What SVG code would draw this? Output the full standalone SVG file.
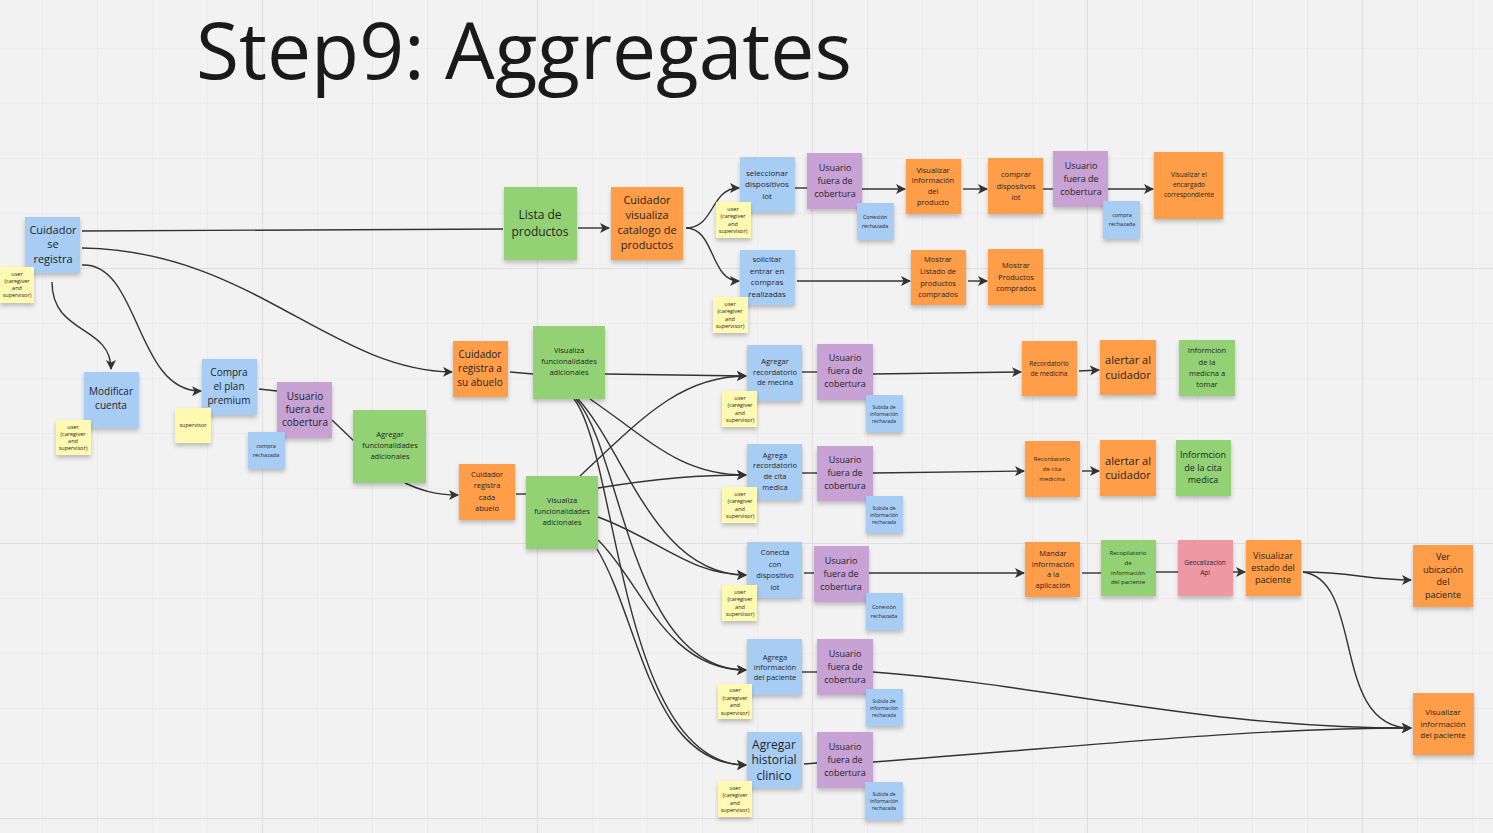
<svg xmlns="http://www.w3.org/2000/svg" width="1493" height="833" viewBox="0 0 1493 833">
<style>
.t{font-family:"Open Sans","Noto Sans","Liberation Sans",sans-serif;fill:#1f1f1f;text-anchor:middle}
.b{fill:#a8cdf4}.o{fill:#ff9d48}.g{fill:#92d275}.p{fill:#c8a2d5}.y{fill:#fff9b1}.k{fill:#ef98a5}
.n rect{filter:url(#sh)}
.c path{fill:none;stroke:#333;stroke-width:1.4}
.c .a{marker-end:url(#ar)}
.s5{font-size:5.5px}.s6{font-size:6.5px}.s7{font-size:7.5px}.s8{font-size:8px}.s9{font-size:9px}.s10{font-size:10px}.s11{font-size:11px}.s12{font-size:12px}
</style>
<defs>
<pattern id="gm" x="42" y="48" width="55" height="55" patternUnits="userSpaceOnUse"><path d="M0,0 H55 M0,0 V55" stroke="#e5e5e5" stroke-width="1.2" fill="none"/></pattern>
<pattern id="gM" x="262" y="268" width="275" height="275" patternUnits="userSpaceOnUse"><path d="M0,0 H275 M0,0 V275" stroke="#dadada" stroke-width="1.5" fill="none"/></pattern>
<filter id="sh" x="-10%" y="-10%" width="120%" height="130%"><feDropShadow dx="0" dy="3" stdDeviation="2" flood-color="#000" flood-opacity="0.22"/></filter>
<marker id="ar" viewBox="0 0 10 10" refX="9" refY="5" markerWidth="10" markerHeight="10" markerUnits="userSpaceOnUse" orient="auto"><path d="M0,0 L10,5 L0,10 L2.5,5 z" fill="#333"/></marker>
</defs>
<rect width="1493" height="833" fill="#f2f2f2"/>
<rect width="1493" height="833" fill="url(#gm)"/>
<rect width="1493" height="833" fill="url(#gM)"/>
<text class="t" x="196" y="79" style="font-size:78.5px;text-anchor:start;fill:#1a1a1a">Step9: Aggregates</text>

<g class="c" id="connectors">
<path d="M82,231 L503,229"/>
<path class="a" d="M578,228 L609,228"/>
<path class="a" d="M82,248 C250,250 330,370 452,372"/>
<path class="a" d="M82,265 C140,262 135,392 201,391"/>
<path class="a" d="M52,282 C52,335 111,325 111,369"/>
<path d="M259,389 L277,391"/>
<path d="M332,420 L355,442"/>
<path class="a" d="M405,483 C420,490 435,495 458,495"/>
<path d="M510,372 L533,374"/>
<path d="M516,494 L526,494"/>
<path class="a" d="M686,228 C715,228 710,188 739,188"/>
<path class="a" d="M686,228 C715,228 710,281 739,281"/>
<path d="M795,188 L807,188"/>
<path class="a" d="M862,189 L905,189"/>
<path class="a" d="M963,189 L987,189"/>
<path d="M1043,189 L1053,189"/>
<path class="a" d="M1108,189 L1153,189"/>
<path class="a" d="M797,281 L910,281"/>
<path class="a" d="M968,281 L987,281"/>
<path class="a" d="M605,374 L746,376"/>
<path class="a" d="M580,476 C640,420 680,376 746,376"/>
<path class="a" d="M590,399 C650,440 680,475 746,475"/>
<path class="a" d="M578,399 C625,450 655,575 746,575"/>
<path class="a" d="M576,399 C622,450 630,670 746,670"/>
<path class="a" d="M574,399 C618,455 620,765 746,765"/>
<path class="a" d="M598,488 C660,478 700,475 746,475"/>
<path class="a" d="M598,517 C660,540 690,575 746,575"/>
<path class="a" d="M598,540 C640,580 665,670 746,670"/>
<path class="a" d="M597,549 C640,620 650,765 746,765"/>
<path d="M802,372 L817,372"/>
<path class="a" d="M873,374 L1021,372"/>
<path class="a" d="M1079,371 L1099,370"/>
<path d="M802,473 L817,473"/>
<path class="a" d="M873,473 L1024,471"/>
<path class="a" d="M1082,471 L1099,471"/>
<path d="M804,573 L814,573"/>
<path class="a" d="M869,573 L1024,573"/>
<path d="M1082,573 L1101,573"/>
<path d="M1156,572 L1178,572"/>
<path class="a" d="M1233,572 L1245,572"/>
<path class="a" d="M1303,572 C1350,572 1370,580 1411,580"/>
<path class="a" d="M1303,572 C1365,580 1330,728 1411,728"/>
<path d="M802,672 L817,672"/>
<path class="a" d="M873,672 C1050,685 1200,728 1411,728"/>
<path d="M804,764 L817,763"/>
<path class="a" d="M873,762 C1100,745 1250,728 1411,728"/>
</g>

<g class="n" id="n1"><rect class="b" x="25" y="217" width="55" height="56"/><text class="t s11"><tspan x="53" y="234">Cuidador</tspan><tspan x="53" y="248">se</tspan><tspan x="53" y="263">registra</tspan></text></g>
<g class="n" id="n2"><rect class="y" x="0" y="267" width="34" height="36"/><text class="t s5"><tspan x="17" y="276">user</tspan><tspan x="17" y="283">(caregiver</tspan><tspan x="17" y="290">and</tspan><tspan x="17" y="297">supervisor)</tspan></text></g>
<g class="n" id="n3"><rect class="b" x="84" y="372" width="55" height="56"/><text class="t s10"><tspan x="111" y="395">Modificar</tspan><tspan x="111" y="409">cuenta</tspan></text></g>
<g class="n" id="n4"><rect class="y" x="56" y="420" width="35" height="35"/><text class="t s5"><tspan x="73" y="429">user</tspan><tspan x="73" y="436">(caregiver</tspan><tspan x="73" y="443">and</tspan><tspan x="73" y="450">supervisor)</tspan></text></g>
<g class="n" id="n5"><rect class="b" x="202" y="359" width="55" height="56"/><text class="t s10"><tspan x="229" y="376">Compra</tspan><tspan x="229" y="390">el plan</tspan><tspan x="229" y="404">premium</tspan></text></g>
<g class="n" id="n6"><rect class="y" x="175" y="408" width="36" height="35"/><text class="t s5"><tspan x="193" y="427">supervisor</tspan></text></g>
<g class="n" id="n7"><rect class="p" x="277" y="382" width="55" height="56"/><text class="t s10"><tspan x="305" y="400">Usuario</tspan><tspan x="305" y="413">fuera de</tspan><tspan x="305" y="426">cobertura</tspan></text></g>
<g class="n" id="n8"><rect class="b" x="248" y="432" width="37" height="37"/><text class="t s5"><tspan x="266" y="448">compra</tspan><tspan x="266" y="457">rechazada</tspan></text></g>
<g class="n" id="n9"><rect class="g" x="353" y="410" width="73" height="73"/><text class="t s7"><tspan x="390" y="437">Agregar</tspan><tspan x="390" y="448">funcionalidades</tspan><tspan x="390" y="459">adicionales</tspan></text></g>
<g class="n" id="n10"><rect class="o" x="453" y="341" width="55" height="56"/><text class="t s10"><tspan x="480" y="358">Cuidador</tspan><tspan x="480" y="372">registra a</tspan><tspan x="480" y="386">su abuelo</tspan></text></g>
<g class="n" id="n11"><rect class="g" x="533" y="326" width="72" height="73"/><text class="t s7"><tspan x="569" y="353">Visualiza</tspan><tspan x="569" y="364">funcionalidades</tspan><tspan x="569" y="375">adicionales</tspan></text></g>
<g class="n" id="n12"><rect class="o" x="459" y="464" width="56" height="56"/><text class="t s7"><tspan x="487" y="477">Cuidador</tspan><tspan x="487" y="488">registra</tspan><tspan x="487" y="500">cada</tspan><tspan x="487" y="511">abuelo</tspan></text></g>
<g class="n" id="n13"><rect class="g" x="526" y="476" width="72" height="73"/><text class="t s7"><tspan x="562" y="503">Visualiza</tspan><tspan x="562" y="514">funcionalidades</tspan><tspan x="562" y="525">adicionales</tspan></text></g>
<g class="n" id="n14"><rect class="g" x="504" y="187" width="73" height="73"/><text class="t s12"><tspan x="540" y="219">Lista de</tspan><tspan x="540" y="236">productos</tspan></text></g>
<g class="n" id="n15"><rect class="o" x="611" y="187" width="72" height="73"/><text class="t s11"><tspan x="647" y="204">Cuidador</tspan><tspan x="647" y="219">visualiza</tspan><tspan x="647" y="234">catalogo de</tspan><tspan x="647" y="249">productos</tspan></text></g>
<g class="n" id="n16"><rect class="b" x="740" y="157" width="55" height="55"/><text class="t s8"><tspan x="767" y="176">seleccionar</tspan><tspan x="767" y="187">dispositivos</tspan><tspan x="767" y="199">iot</tspan></text></g>
<g class="n" id="n17"><rect class="y" x="716" y="202" width="35" height="36"/><text class="t s5"><tspan x="733" y="211">user</tspan><tspan x="733" y="218">(caregiver</tspan><tspan x="733" y="226">and</tspan><tspan x="733" y="233">supervisor)</tspan></text></g>
<g class="n" id="n18"><rect class="b" x="740" y="250" width="55" height="55"/><text class="t s8"><tspan x="767" y="262">solicitar</tspan><tspan x="767" y="274">entrar en</tspan><tspan x="767" y="285">compras</tspan><tspan x="767" y="297">realizadas</tspan></text></g>
<g class="n" id="n19"><rect class="y" x="713" y="297" width="35" height="36"/><text class="t s5"><tspan x="730" y="306">user</tspan><tspan x="730" y="313">(caregiver</tspan><tspan x="730" y="321">and</tspan><tspan x="730" y="328">supervisor)</tspan></text></g>
<g class="n" id="n20"><rect class="p" x="807" y="153" width="55" height="56"/><text class="t s9"><tspan x="835" y="171">Usuario</tspan><tspan x="835" y="184">fuera de</tspan><tspan x="835" y="197">cobertura</tspan></text></g>
<g class="n" id="n21"><rect class="b" x="857" y="203" width="37" height="37"/><text class="t s5"><tspan x="875" y="219">Conexión</tspan><tspan x="875" y="228">rechazada</tspan></text></g>
<g class="n" id="n22"><rect class="o" x="906" y="159" width="55" height="55"/><text class="t s7"><tspan x="933" y="173">Visualizar</tspan><tspan x="933" y="183">información</tspan><tspan x="933" y="194">del</tspan><tspan x="933" y="205">producto</tspan></text></g>
<g class="n" id="n23"><rect class="o" x="988" y="158" width="55" height="56"/><text class="t s7"><tspan x="1016" y="177">comprar</tspan><tspan x="1016" y="189">dispositvos</tspan><tspan x="1016" y="200">iot</tspan></text></g>
<g class="n" id="n24"><rect class="p" x="1053" y="151" width="55" height="56"/><text class="t s9"><tspan x="1081" y="169">Usuario</tspan><tspan x="1081" y="182">fuera de</tspan><tspan x="1081" y="195">cobertura</tspan></text></g>
<g class="n" id="n25"><rect class="b" x="1103" y="201" width="37" height="38"/><text class="t s5"><tspan x="1122" y="217">compra</tspan><tspan x="1122" y="226">rechazada</tspan></text></g>
<g class="n" id="n26"><rect class="o" x="1154" y="152" width="69" height="67"/><text class="t s6"><tspan x="1189" y="177">Visualizar el</tspan><tspan x="1189" y="187">encargado</tspan><tspan x="1189" y="197">correspondiente</tspan></text></g>
<g class="n" id="n27"><rect class="o" x="911" y="250" width="55" height="55"/><text class="t s7"><tspan x="938" y="262">Mostrar</tspan><tspan x="938" y="274">Listado de</tspan><tspan x="938" y="286">productos</tspan><tspan x="938" y="297">comprados</tspan></text></g>
<g class="n" id="n28"><rect class="o" x="988" y="249" width="55" height="56"/><text class="t s7"><tspan x="1016" y="268">Mostrar</tspan><tspan x="1016" y="280">Productos</tspan><tspan x="1016" y="291">comprados</tspan></text></g>

<g class="n" id="n29"><rect class="b" x="747" y="345" width="55" height="56"/><text class="t s7"><tspan x="775" y="364">Agregar</tspan><tspan x="775" y="375">recordatorio</tspan><tspan x="775" y="385">de mecina</tspan></text></g>
<g class="n" id="n30"><rect class="y" x="722" y="391" width="35" height="36"/><text class="t s5"><tspan x="740" y="400">user</tspan><tspan x="740" y="407">(caregiver</tspan><tspan x="740" y="415">and</tspan><tspan x="740" y="422">supervisor)</tspan></text></g>
<g class="n" id="n31"><rect class="p" x="817" y="344" width="56" height="56"/><text class="t s9"><tspan x="845" y="361">Usuario</tspan><tspan x="845" y="374">fuera de</tspan><tspan x="845" y="387">cobertura</tspan></text></g>
<g class="n" id="n32"><rect class="b" x="866" y="395" width="37" height="37"/><text class="t" style="font-size:5px"><tspan x="884" y="409">Subida de</tspan><tspan x="884" y="416">información</tspan><tspan x="884" y="423">rechazada</tspan></text></g>
<g class="n" id="n33"><rect class="o" x="1022" y="341" width="55" height="55"/><text class="t s6"><tspan x="1049" y="366">Recordatorio</tspan><tspan x="1049" y="376">de medicina</tspan></text></g>
<g class="n" id="n34"><rect class="o" x="1100" y="340" width="56" height="55"/><text class="t s11"><tspan x="1128" y="364">alertar al</tspan><tspan x="1128" y="379">cuidador</tspan></text></g>
<g class="n" id="n35"><rect class="g" x="1179" y="340" width="56" height="56"/><text class="t s7"><tspan x="1207" y="353">Informcion</tspan><tspan x="1207" y="365">de la</tspan><tspan x="1207" y="376">medicna a</tspan><tspan x="1207" y="387">tomar</tspan></text></g>

<g class="n" id="n36"><rect class="b" x="747" y="444" width="55" height="56"/><text class="t s7"><tspan x="775" y="458">Agrega</tspan><tspan x="775" y="468">recordatorio</tspan><tspan x="775" y="479">de cita</tspan><tspan x="775" y="490">medica</tspan></text></g>
<g class="n" id="n37"><rect class="y" x="722" y="487" width="35" height="36"/><text class="t s5"><tspan x="740" y="496">user</tspan><tspan x="740" y="503">(caregiver</tspan><tspan x="740" y="511">and</tspan><tspan x="740" y="518">supervisor)</tspan></text></g>
<g class="n" id="n38"><rect class="p" x="817" y="446" width="56" height="55"/><text class="t s9"><tspan x="845" y="463">Usuario</tspan><tspan x="845" y="476">fuera de</tspan><tspan x="845" y="489">cobertura</tspan></text></g>
<g class="n" id="n39"><rect class="b" x="866" y="496" width="37" height="37"/><text class="t" style="font-size:5px"><tspan x="884" y="510">Subida de</tspan><tspan x="884" y="517">información</tspan><tspan x="884" y="524">rechazada</tspan></text></g>
<g class="n" id="n40"><rect class="o" x="1025" y="441" width="55" height="56"/><text class="t" style="font-size:6px"><tspan x="1052" y="461">Recordatorio</tspan><tspan x="1052" y="471">de cita</tspan><tspan x="1052" y="481">medicina</tspan></text></g>
<g class="n" id="n41"><rect class="o" x="1100" y="440" width="56" height="56"/><text class="t s11"><tspan x="1128" y="465">alertar al</tspan><tspan x="1128" y="479">cuidador</tspan></text></g>
<g class="n" id="n42"><rect class="g" x="1176" y="440" width="55" height="56"/><text class="t s9"><tspan x="1203" y="458">Informcion</tspan><tspan x="1203" y="471">de la cita</tspan><tspan x="1203" y="483">medica</tspan></text></g>

<g class="n" id="n43"><rect class="b" x="747" y="542" width="55" height="56"/><text class="t s7"><tspan x="775" y="555">Conecta</tspan><tspan x="775" y="567">con</tspan><tspan x="775" y="578">dispositivo</tspan><tspan x="775" y="590">iot</tspan></text></g>
<g class="n" id="n44"><rect class="y" x="722" y="585" width="35" height="36"/><text class="t s5"><tspan x="740" y="594">user</tspan><tspan x="740" y="601">(caregiver</tspan><tspan x="740" y="609">and</tspan><tspan x="740" y="616">supervisor)</tspan></text></g>
<g class="n" id="n45"><rect class="p" x="814" y="546" width="55" height="56"/><text class="t s9"><tspan x="841" y="564">Usuario</tspan><tspan x="841" y="577">fuera de</tspan><tspan x="841" y="590">cobertura</tspan></text></g>
<g class="n" id="n46"><rect class="b" x="866" y="593" width="37" height="37"/><text class="t s5"><tspan x="884" y="609">Conexión</tspan><tspan x="884" y="618">rechazada</tspan></text></g>
<g class="n" id="n47"><rect class="o" x="1025" y="542" width="55" height="55"/><text class="t s7"><tspan x="1053" y="556">Mandar</tspan><tspan x="1053" y="567">información</tspan><tspan x="1053" y="577">a la</tspan><tspan x="1053" y="588">aplicación</tspan></text></g>
<g class="n" id="n48"><rect class="g" x="1101" y="540" width="55" height="56"/><text class="t" style="font-size:6px"><tspan x="1128" y="555">Recopilatorio</tspan><tspan x="1128" y="565">de</tspan><tspan x="1128" y="575">información</tspan><tspan x="1128" y="584">del paciente</tspan></text></g>
<g class="n" id="n49"><rect class="k" x="1178" y="540" width="55" height="56"/><text class="t s6"><tspan x="1205" y="565">Geocalizacion</tspan><tspan x="1205" y="575">Api</tspan></text></g>
<g class="n" id="n50"><rect class="o" x="1246" y="540" width="55" height="56"/><text class="t s9"><tspan x="1273" y="559">Visualizar</tspan><tspan x="1273" y="571">estado del</tspan><tspan x="1273" y="583">paciente</tspan></text></g>
<g class="n" id="n51"><rect class="o" x="1413" y="545" width="60" height="62"/><text class="t s9"><tspan x="1443" y="560">Ver</tspan><tspan x="1443" y="573">ubicación</tspan><tspan x="1443" y="585">del</tspan><tspan x="1443" y="598">paciente</tspan></text></g>
<g class="n" id="n52"><rect class="o" x="1413" y="693" width="61" height="62"/><text class="t s8"><tspan x="1443" y="715">Visualizar</tspan><tspan x="1443" y="727">información</tspan><tspan x="1443" y="738">del paciente</tspan></text></g>

<g class="n" id="n53"><rect class="b" x="747" y="639" width="55" height="56"/><text class="t s7"><tspan x="775" y="660">Agrega</tspan><tspan x="775" y="670">información</tspan><tspan x="775" y="680">del paciente</tspan></text></g>
<g class="n" id="n54"><rect class="y" x="718" y="684" width="34" height="35"/><text class="t s5"><tspan x="735" y="692">user</tspan><tspan x="735" y="700">(caregiver</tspan><tspan x="735" y="707">and</tspan><tspan x="735" y="715">supervisor)</tspan></text></g>
<g class="n" id="n55"><rect class="p" x="817" y="639" width="56" height="56"/><text class="t s9"><tspan x="845" y="657">Usuario</tspan><tspan x="845" y="670">fuera de</tspan><tspan x="845" y="683">cobertura</tspan></text></g>
<g class="n" id="n56"><rect class="b" x="866" y="689" width="37" height="37"/><text class="t" style="font-size:5px"><tspan x="884" y="703">Subida de</tspan><tspan x="884" y="710">información</tspan><tspan x="884" y="717">rechazada</tspan></text></g>

<g class="n" id="n57"><rect class="b" x="747" y="732" width="55" height="56"/><text class="t s12"><tspan x="774" y="749">Agregar</tspan><tspan x="774" y="764">historial</tspan><tspan x="774" y="780">clinico</tspan></text></g>
<g class="n" id="n58"><rect class="y" x="718" y="781" width="34" height="36"/><text class="t s5"><tspan x="735" y="790">user</tspan><tspan x="735" y="797">(caregiver</tspan><tspan x="735" y="805">and</tspan><tspan x="735" y="812">supervisor)</tspan></text></g>
<g class="n" id="n59"><rect class="p" x="817" y="732" width="56" height="56"/><text class="t s9"><tspan x="845" y="750">Usuario</tspan><tspan x="845" y="763">fuera de</tspan><tspan x="845" y="776">cobertura</tspan></text></g>
<g class="n" id="n60"><rect class="b" x="865" y="782" width="38" height="38"/><text class="t" style="font-size:5px"><tspan x="884" y="796">Subida de</tspan><tspan x="884" y="803">información</tspan><tspan x="884" y="810">rechazada</tspan></text></g>
</svg>
